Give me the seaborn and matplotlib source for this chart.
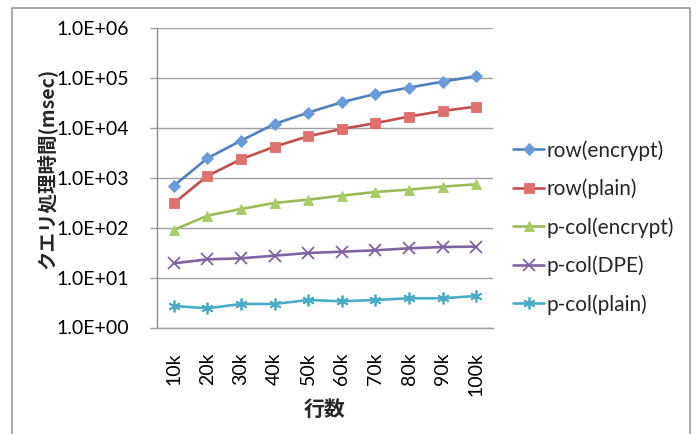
import matplotlib
matplotlib.use("Agg")
import matplotlib.pyplot as plt
import matplotlib.ticker as mticker
from matplotlib.patches import Rectangle
import numpy as np
import pandas as pd
import seaborn as sns

# Row counts on the x axis
rows = ["10k", "20k", "30k", "40k", "50k", "60k", "70k", "80k", "90k", "100k"]

# Query processing time in msec for each storage / encryption variant
row_encrypt = [690, 2460, 5540, 11970, 20200, 32600, 47800, 64000, 84300, 108000]
row_plain = [308, 1087, 2350, 4200, 6780, 9500, 12400, 16800, 21800, 26600]
pcol_encrypt = [90, 174, 237, 313, 364, 438, 519, 578, 664, 740]
pcol_dpe = [19.3, 23.2, 24.3, 27.5, 31.1, 33.0, 35.2, 38.6, 41.0, 41.7]
pcol_plain = [2.70, 2.42, 2.96, 2.96, 3.56, 3.35, 3.56, 3.85, 3.85, 4.28]

series_names = ["row(encrypt)", "row(plain)", "p-col(encrypt)", "p-col(DPE)", "p-col(plain)"]
series_values = [row_encrypt, row_plain, pcol_encrypt, pcol_dpe, pcol_plain]

line_colors = ["#4F81BD", "#C0504D", "#9BBB59", "#8064A2", "#4BACC6"]
face_colors = ["#6A9BD8", "#E0706D", "#A9CB68", "#8064A2", "#4BACC6"]
markers = ["D", "s", "^", "x", (6, 2, 0)]
msizes = [6.5, 7.5, 7.5, 8, 8.5]

df = pd.DataFrame({
    "rows": np.tile(rows, len(series_names)),
    "series": np.repeat(series_names, len(rows)),
    "msec": np.concatenate(series_values),
})

sns.set_theme(style="white")
plt.rcParams["font.family"] = ["Lato", "Noto Sans CJK JP", "DejaVu Sans"]

fig = plt.figure(figsize=(6.96, 4.34), dpi=100)
ax = fig.add_axes([157 / 696, 1 - 327.5 / 434, (493 - 157) / 696, (327.5 - 28) / 434])

# Outer chart frame
fig.patches.append(Rectangle((12 / 696, -0.05), (690 - 12) / 696, 1.05 - 8 / 434,
                             transform=fig.transFigure, fill=False,
                             edgecolor="#9A9A9A", linewidth=1.2, zorder=0))

for name, lc, fc, mk, ms in zip(series_names, line_colors, face_colors, markers, msizes):
    sub = df[df["series"] == name]
    sns.lineplot(data=sub, x="rows", y="msec", ax=ax, color=lc, linewidth=1.9,
                 marker=mk, markersize=ms, markerfacecolor=fc,
                 markeredgecolor=lc if mk in ("x", (6, 2, 0)) else fc,
                 markeredgewidth=1.3 if mk in ("x", (6, 2, 0)) else 0.6,
                 label=name, sort=False)

ax.set_yscale("log")
ax.set_ylim(1, 1e6)
ax.set_xlim(-0.5, len(rows) - 0.5)
ax.yaxis.set_major_locator(mticker.LogLocator(base=10, numticks=10))
ax.yaxis.set_minor_locator(mticker.NullLocator())
ax.yaxis.set_major_formatter(mticker.FuncFormatter(
    lambda v, p: "1.0E+%02d" % int(round(np.log10(v)))))

ax.grid(axis="y", color="#A0A0A0", linewidth=1.0)
ax.grid(axis="x", visible=False)
for side in ("top", "right"):
    ax.spines[side].set_visible(False)
ax.spines["left"].set_color("#8C8C8C")
ax.spines["bottom"].set_color("#A0A0A0")
ax.spines["left"].set_linewidth(1.0)
ax.spines["bottom"].set_linewidth(1.0)

ax.tick_params(axis="y", which="major", left=True, length=5, width=1.0,
               color="#A0A0A0", pad=15, labelsize=14, labelcolor="black")
ax.tick_params(axis="x", bottom=False, labelsize=14, labelcolor="black", pad=12)
for lab in ax.get_xticklabels():
    lab.set_rotation(90)
    lab.set_va("top")
    lab.set_ha("center")

ax.set_xlabel("行数", fontsize=15, fontweight="bold",
              family=["Noto Sans CJK JP", "DejaVu Sans"], labelpad=4)
ax.set_ylabel("クエリ処理時間(msec)", fontsize=14, fontweight="bold",
              family=["Noto Sans CJK JP", "DejaVu Sans"], labelpad=4)
ax.yaxis.set_label_coords(-0.297, 0.53)
ax.xaxis.set_label_coords(0.5, -0.237)

leg = ax.legend(loc="upper left", bbox_to_anchor=(513 / 696, 1 - 140 / 434),
                bbox_transform=fig.transFigure, frameon=False, fontsize=15,
                handlelength=1.5, handletextpad=0.12, labelspacing=0.86,
                borderaxespad=0, borderpad=0)

fig.savefig("out.png", dpi=100)
